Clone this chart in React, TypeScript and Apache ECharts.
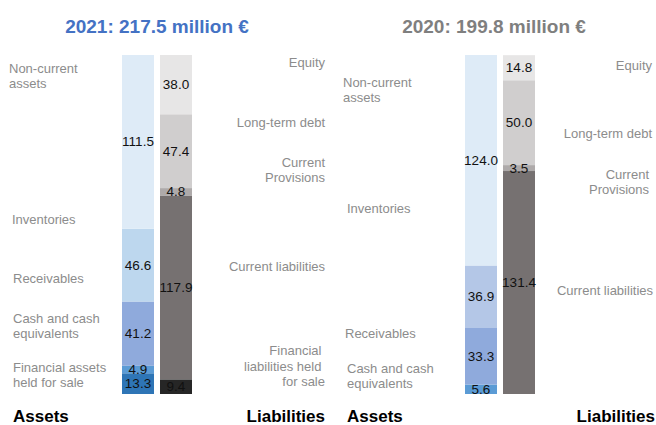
import React, { useEffect, useRef } from "react";
import * as echarts from "echarts";

const sides = ["Assets", "Liabilities"];

// 2021 (bottom to top)
const assets2021 = [13.3, 4.9, 41.2, 46.6, 111.5];
const assetColors2021 = ["#2e75b6", "#5b9bd5", "#8faadc", "#bdd7ee", "#deebf7"];
const liab2021 = [9.4, 117.9, 4.8, 47.4, 38.0];
const liabColors2021 = ["#262626", "#767171", "#aeaaaa", "#d0cece", "#e7e6e6"];
const total2021 = 217.5;

// 2020 (bottom to top)
const assets2020 = [5.6, 33.3, 36.9, 124.0];
const assetColors2020 = ["#5b9bd5", "#8faadc", "#b4c7e7", "#deebf7"];
const liab2020 = [131.4, 3.5, 50.0, 14.8];
const liabColors2020 = ["#767171", "#aeaaaa", "#d0cece", "#e7e6e6"];
const total2020 = 199.8;

const title2021 = "2021: 217.5 million €";
const title2020 = "2020: 199.8 million €";

const leftLabels2021 = [
  { t: "Non-current\nassets", x: 9, y: 76 },
  { t: "Inventories", x: 12, y: 219 },
  { t: "Receivables", x: 13, y: 278 },
  { t: "Cash and cash\nequivalents", x: 13, y: 326 },
  { t: "Financial assets\nheld for sale", x: 13, y: 375 },
];
const rightLabels2021 = [
  { t: "Equity", x: 325, y: 62 },
  { t: "Long-term debt", x: 325, y: 122 },
  { t: "Current\nProvisions", x: 325, y: 170 },
  { t: "Current liabilities", x: 325, y: 266 },
  { t: "Financial \nliabilities held \nfor sale", x: 325, y: 366 },
];
const leftLabels2020 = [
  { t: "Non-current\nassets", x: 343, y: 90 },
  { t: "Inventories", x: 347, y: 208 },
  { t: "Receivables", x: 345, y: 333 },
  { t: "Cash and cash\nequivalents", x: 347, y: 376 },
];
const rightLabels2020 = [
  { t: "Equity", x: 652, y: 65 },
  { t: "Long-term debt", x: 652, y: 133 },
  { t: "Current\nProvisions", x: 649, y: 182 },
  { t: "Current liabilities", x: 653, y: 290 },
];

const FONT = "Liberation Sans";

function makeSeries(
  values: number[],
  colors: string[],
  catIndex: number,
  axisIndex: number,
  stack: string
) {
  return values.map((v, i) => ({
    type: "bar",
    xAxisIndex: axisIndex,
    yAxisIndex: axisIndex,
    stack,
    barWidth: 32,
    data: catIndex === 0 ? [v, "-"] : ["-", v],
    itemStyle: { color: colors[i] },
    label: {
      show: true,
      position: "inside",
      color: "#111",
      fontSize: 13.5,
      fontFamily: FONT,
      formatter: (p: any) => Number(p.value).toFixed(1),
    },
  }));
}

function textEl(t: string, x: number, y: number, align: string) {
  return {
    type: "text",
    x,
    y,
    style: {
      text: t,
      fill: "#8c8c8c",
      fontSize: 13,
      fontFamily: FONT,
      align,
      verticalAlign: "middle",
      lineHeight: 15.5,
    },
  };
}

export default function App() {
  const ref = useRef<HTMLDivElement>(null);
  useEffect(() => {
    if (!ref.current) return;
    const chart = echarts.init(ref.current, undefined, { renderer: "svg" });
    const graphics: any[] = [];
    leftLabels2021.forEach((l) => graphics.push(textEl(l.t, l.x, l.y, "left")));
    rightLabels2021.forEach((l) => graphics.push(textEl(l.t, l.x, l.y, "right")));
    leftLabels2020.forEach((l) => graphics.push(textEl(l.t, l.x, l.y, "left")));
    rightLabels2020.forEach((l) => graphics.push(textEl(l.t, l.x, l.y, "right")));
    const bold = (t: string, x: number, y: number, align: string, color: string, size: number) => ({
      type: "text",
      x,
      y,
      style: { text: t, fill: color, fontSize: size, fontWeight: "bold", fontFamily: FONT, align, verticalAlign: "middle" },
    });
    graphics.push(bold(title2021, 157, 26, "center", "#4472c4", 19));
    graphics.push(bold(title2020, 494, 26, "center", "#7f7f7f", 19));
    graphics.push(bold(sides[0], 13, 416, "left", "#000", 17));
    graphics.push(bold(sides[1], 325, 416, "right", "#000", 17));
    graphics.push(bold(sides[0], 347, 416, "left", "#000", 17));
    graphics.push(bold(sides[1], 655, 416, "right", "#000", 17));

    const axisCommon = { show: false };
    chart.setOption({
      animation: false,
      grid: [
        { left: 119, width: 76, top: 55, height: 339 },
        { left: 462, width: 76, top: 55, height: 339 },
      ],
      xAxis: [
        { type: "category", data: sides, gridIndex: 0, ...axisCommon },
        { type: "category", data: sides, gridIndex: 1, ...axisCommon },
      ],
      yAxis: [
        { type: "value", min: 0, max: total2021, gridIndex: 0, ...axisCommon },
        { type: "value", min: 0, max: total2020, gridIndex: 1, ...axisCommon },
      ],
      series: [
        ...makeSeries(assets2021, assetColors2021, 0, 0, "a"),
        ...makeSeries(liab2021, liabColors2021, 1, 0, "a"),
        ...makeSeries(assets2020, assetColors2020, 0, 1, "b"),
        ...makeSeries(liab2020, liabColors2020, 1, 1, "b"),
      ],
      graphic: graphics,
    });
    return () => chart.dispose();
  }, []);
  return <div ref={ref} style={{ width: 656, height: 425, position: "absolute", left: 0, top: 0 }} />;
}
